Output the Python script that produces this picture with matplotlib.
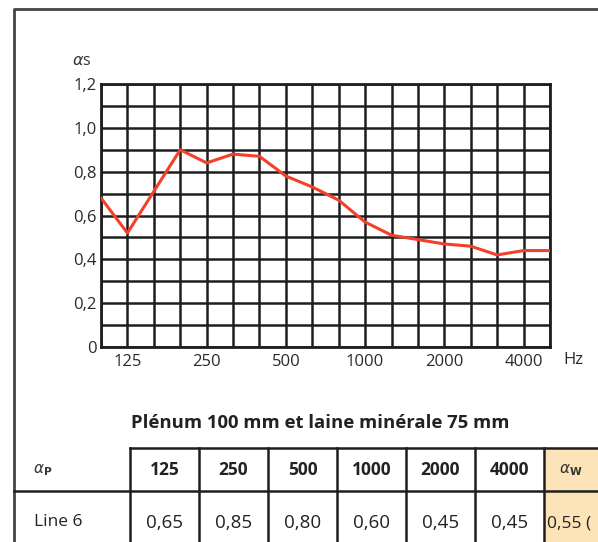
import matplotlib.pyplot as plt

plt.rcParams['font.family'] = ['Open Sans', 'DejaVu Sans']

# Données : bandes de tiers d'octave et coefficient d'absorption
freqs = [100, 125, 160, 200, 250, 315, 400, 500, 630, 800,
         1000, 1250, 1600, 2000, 2500, 3150, 4000, 5000]
alpha_s = [0.68, 0.52, 0.71, 0.90, 0.84, 0.88, 0.87, 0.78, 0.73, 0.67,
           0.57, 0.51, 0.49, 0.47, 0.46, 0.42, 0.44, 0.44]
freq_labels = [125, 250, 500, 1000, 2000, 4000]
y_ticks = [0.0, 0.1, 0.2, 0.3, 0.4, 0.5, 0.6, 0.7, 0.8, 0.9, 1.0, 1.1, 1.2]

# Tableau
table_title = 'Plénum 100 mm et laine minérale 75 mm'
table_head = ['125', '250', '500', '1000', '2000', '4000']
table_row_name = 'Line 6'
table_vals = ['0,65', '0,85', '0,80', '0,60', '0,45', '0,45']
alpha_w = '0,55 ('

W, H = 598, 542
fig = plt.figure(figsize=(W / 100, H / 100), dpi=100)

# Cadre + tableau (coordonnées en pixels)
ov = fig.add_axes([0, 0, 1, 1])
ov.set_xlim(0, W)
ov.set_ylim(H, 0)
ov.axis('off')

dark = '#1e1e1e'
txt = '#222222'
ov.plot([14, 14, W], [H, 9, 9], color='#444444', lw=2)

ov.text(320, 423, table_title, ha='center', va='center', fontsize=13.3,
        fontweight='bold', color=txt)

x0, cw = 130, 69
top, mid = 448, 491
cols = [x0 + cw * k for k in range(7)]
ov.fill_between([cols[-1], W], top, H, color='#fde3b8', zorder=0)
ov.plot([cols[0], W], [top, top], color=dark, lw=1.8)
ov.plot([14, W], [mid, mid], color=dark, lw=1.8)
for cx in cols:
    ov.plot([cx, cx], [top, H], color=dark, lw=1.8)

ov.text(33, 470, r'$\alpha_\mathbf{P}$', ha='left', va='center', fontsize=11,
        color='#333333')
ov.text(34, 522, table_row_name, ha='left', va='center', fontsize=12.5,
        color=txt)
for k in range(6):
    cx = cols[k] + cw / 2
    ov.text(cx, 470, table_head[k], ha='center', va='center', fontsize=12.5,
            fontweight='bold', color=txt)
    ov.text(cx, 523, table_vals[k], ha='center', va='center', fontsize=13.5,
            color=txt)
ov.text(571, 470, r'$\alpha_\mathbf{W}$', ha='center', va='center', fontsize=11,
        color='#333333')
ov.text(547, 523, alpha_w, ha='left', va='center', fontsize=12.5,
        color=txt)

# Graphique
left, right, ptop, pbot = 101, 550, 84, 347
ax = fig.add_axes([left / W, (H - pbot) / H, (right - left) / W, (pbot - ptop) / H])
xs = list(range(len(freqs)))
ax.plot(xs, alpha_s, color='#f4402a', lw=2.2, zorder=3)
ax.set_xlim(0, len(freqs) - 1)
ax.set_ylim(0, 1.2)

ax.set_xticks(xs)
ax.set_xticklabels([str(f) if f in freq_labels else '' for f in freqs])
ax.set_yticks(y_ticks)
ylabs = []
for v in y_ticks:
    if v == 0:
        ylabs.append('0')
    elif round(v * 10) % 2 == 0:
        ylabs.append(f'{v:.1f}'.replace('.', ','))
    else:
        ylabs.append('')
ax.set_yticklabels(ylabs)
ax.tick_params(axis='x', length=0, labelsize=12, labelcolor='#2a2a2a', pad=5)
ax.tick_params(axis='y', length=0, labelsize=12, labelcolor='#2a2a2a', pad=3)
ax.grid(True, color=dark, lw=1.8)
for s in ax.spines.values():
    s.set_color(dark)
    s.set_linewidth(2)

ov.text(82, 61, r'$\alpha$s', ha='center', va='center', fontsize=11.5,
        color='#333333')
ov.text(573, 360, 'Hz', ha='center', va='center', fontsize=12,
        color='#2a2a2a')

fig.savefig('out.png', dpi=100)
